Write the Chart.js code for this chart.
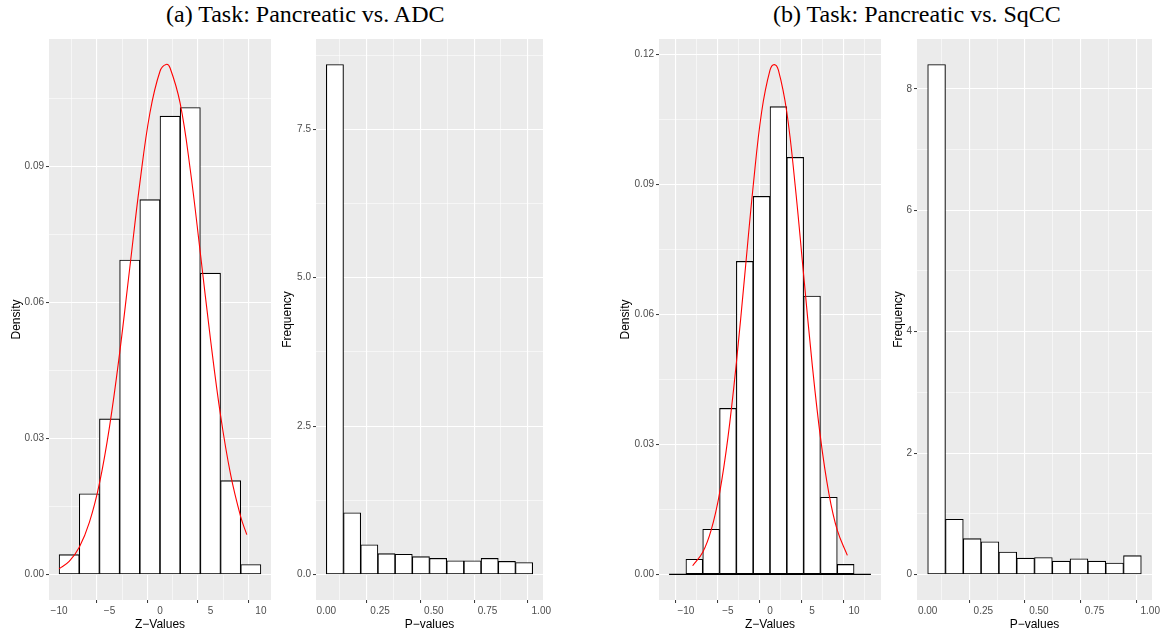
<!DOCTYPE html>
<html>
<head>
<meta charset="utf-8">
<title>Z-values and P-values</title>
<script src="https://cdn.jsdelivr.net/npm/chart.js@4.4.0/dist/chart.umd.min.js"></script>
<style>
body { margin: 0; width: 1164px; height: 636px; background: #fff; position: relative; overflow: hidden; }
.title { position: absolute; top: 2px; font-family: "Liberation Serif", "Times New Roman", serif; font-size: 24px; line-height: 24px; white-space: nowrap; color: #000; }
canvas { position: absolute; }
</style>
</head>
<body>
<div class="title" style="left:166px">(a) Task: Pancreatic vs. ADC</div>
<div class="title" style="left:773px">(b) Task: Pancreatic vs. SqCC</div>
<canvas id="zA"></canvas>
<canvas id="pA"></canvas>
<canvas id="zB"></canvas>
<canvas id="pB"></canvas>
<script>
'use strict'

// histogram bins (edges) and heights
var zEdgesA = [-10, -8, -6, -4, -2, 0, 2, 4, 6, 8, 10];
var zDensityA = [0.0044, 0.0178, 0.0343, 0.0693, 0.0826, 0.1010, 0.1029, 0.0664, 0.0207, 0.0022];
var zEdgesB = [-12, -10, -8, -6, -4, -2, 0, 2, 4, 6, 8, 10, 12];
var zDensityB = [0, 0.0035, 0.0104, 0.0383, 0.0722, 0.0872, 0.1079, 0.0962, 0.0642, 0.0178, 0.0023, 0];

var pEdges = [0, 0.08, 0.16, 0.24, 0.32, 0.40, 0.48, 0.56, 0.64, 0.72, 0.80, 0.88, 0.96];
var pFreqA = [8.59, 1.04, 0.50, 0.35, 0.34, 0.30, 0.27, 0.23, 0.23, 0.27, 0.22, 0.20];
var pFreqB = [8.40, 0.91, 0.59, 0.54, 0.37, 0.27, 0.28, 0.22, 0.26, 0.22, 0.19, 0.31];

// red density curves
var curveXA = [-10, -9, -8, -7, -6, -5, -4, -3, -2, -1, 0, 0.6, 1, 2, 3, 4, 5, 6, 7, 8, 8.6];
var curveYA = [0.0013, 0.0029, 0.0060, 0.0115, 0.0201, 0.0326, 0.0488, 0.0675, 0.0862, 0.1017,
    0.1109, 0.1124, 0.1116, 0.1038, 0.0892, 0.0708, 0.0519, 0.0351, 0.0220, 0.0127, 0.0088];
var curveXB = [-9.2, -8, -7, -6, -5, -4, -3, -2, -1, 0, 0.5, 1, 2, 3, 4, 5, 6, 7, 8, 9.2];
var curveYB = [0.0020, 0.0051, 0.0102, 0.0187, 0.0316, 0.0488, 0.0691, 0.0896, 0.1066, 0.1163,
    0.1176, 0.1163, 0.1066, 0.0896, 0.0691, 0.0488, 0.0316, 0.0187, 0.0102, 0.0044];

// tick labels (major) and minor grid positions
var zTicks = [-10, -5, 0, 5, 10];
var zMinorA = [-7.5, -2.5, 2.5, 7.5];
var zMinorB = [-12.5, -7.5, -2.5, 2.5, 7.5, 12.5];
var densTicksA = [0, 0.03, 0.06, 0.09];
var densTicksB = [0, 0.03, 0.06, 0.09, 0.12];
var densMinor = [0.015, 0.045, 0.075, 0.105];
var pTicks = [0, 0.25, 0.5, 0.75, 1];
var pMinor = [0.125, 0.375, 0.625, 0.875];
var freqTicksA = [0, 2.5, 5, 7.5];
var freqMinorA = [1.25, 3.75, 6.25, 8.75];
var freqTicksB = [0, 2, 4, 6, 8];
var freqMinorB = [1, 3, 5, 7];

var TICK_FONT = { family: 'Liberation Sans, Arial, sans-serif', size: 10 };
var TITLE_FONT = { family: 'Liberation Sans, Arial, sans-serif', size: 12 };

// ggplot grey panel
var panelBg = {
    id: 'panelBg',
    beforeDraw: function (chart) {
        var a = chart.chartArea;
        var c = chart.ctx;
        c.save();
        c.fillStyle = '#EBEBEB';
        c.fillRect(a.left, a.top, a.right - a.left, a.bottom - a.top);
        c.restore();
    }
};

function fmt(v, digits) {
    return v.toFixed(digits).replace('-', '\u2212');
}

function binBars(edges, heights) {
    var out = [];
    for (var i = 0; i != heights.length; i++) {
        out.push({ x: (edges[i] + edges[i + 1]) / 2, y: heights[i] });
    }
    return out;
}

function pairs(xs, ys) {
    return xs.map(function (x, i) { return { x: x, y: ys[i] }; });
}

function axis(min, max, major, minor, digits, title, isX, size, titlePad) {
    var all = major.concat(minor).sort(function (a, b) { return a - b; });
    var isMajor = function (v) { return major.indexOf(v) >= 0; };
    return {
        type: 'linear',
        min: min,
        max: max,
        bounds: 'data',
        offset: false,
        border: { display: false },
        afterBuildTicks: function (s) {
            s.ticks = all.map(function (v) { return { value: v }; });
        },
        afterFit: function (s) {
            if (isX) { s.height = size; } else { s.width = size; }
        },
        grid: {
            color: '#FFFFFF',
            lineWidth: function (ctx) { return ctx.tick && isMajor(ctx.tick.value) ? 1.1 : 0.55; },
            tickColor: function (ctx) { return ctx.tick && isMajor(ctx.tick.value) ? '#333333' : 'rgba(0,0,0,0)'; },
            tickWidth: 1,
            tickLength: 3,
            drawTicks: true
        },
        ticks: {
            autoSkip: false,
            maxRotation: 0,
            padding: 2,
            color: '#4D4D4D',
            font: TICK_FONT,
            callback: function (v) { return isMajor(v) ? fmt(v, digits) : ''; }
        },
        title: {
            display: true,
            text: title,
            color: '#000000',
            font: TITLE_FONT,
            padding: isX ? { top: 0, bottom: titlePad } : { top: titlePad, bottom: 0 }
        }
    };
}

function makePanel(id, box, datasets, xAxis, yAxis) {
    var cv = document.getElementById(id);
    cv.width = box.w;
    cv.height = box.h;
    cv.style.left = box.left + 'px';
    cv.style.top = box.top + 'px';
    return new Chart(cv.getContext('2d'), {
        type: 'bar',
        data: { datasets: datasets },
        options: {
            responsive: false,
            animation: false,
            layout: { padding: { top: 10, right: box.padRight, bottom: 0, left: 0 } },
            plugins: { legend: { display: false }, tooltip: { enabled: false } },
            scales: { x: xAxis, y: yAxis }
        },
        plugins: [panelBg]
    });
}

function histSet(edges, heights) {
    return {
        type: 'bar',
        data: binBars(edges, heights),
        backgroundColor: '#FFFFFF',
        borderColor: '#000000',
        borderWidth: 1.1,
        borderSkipped: false,
        barPercentage: 1,
        categoryPercentage: 1,
        order: 2
    };
}

function curveSet(xs, ys) {
    return {
        type: 'line',
        data: pairs(xs, ys),
        borderColor: '#FF0000',
        borderWidth: 1.1,
        pointRadius: 0,
        tension: 0.4,
        fill: false,
        order: 0
    };
}

function baseSet(edges) {
    return {
        type: 'line',
        data: [{ x: edges[0], y: 0 }, { x: edges[edges.length - 1], y: 0 }],
        borderColor: '#000000',
        borderWidth: 1.1,
        pointRadius: 0,
        fill: false,
        order: 1
    };
}

// (a) Z-values
makePanel('zA', { left: 7, top: 29, w: 278, h: 607, padRight: 14 },
    [histSet(zEdgesA, zDensityA), curveSet(curveXA, curveYA)],
    axis(-11.0, 11.0, zTicks, zMinorA, 0, 'Z\u2212Values', true, 36, 4),
    axis(-0.0056, 0.1180, densTicksA, densMinor, 2, 'Density', false, 42, 2));

// (a) P-values
makePanel('pA', { left: 278, top: 29, w: 279, h: 607, padRight: 14 },
    [histSet(pEdges, pFreqA)],
    axis(-0.048, 1.008, pTicks, pMinor, 2, 'P\u2212values', true, 36, 4),
    axis(-0.43, 9.02, freqTicksA, freqMinorA, 1, 'Frequency', false, 38, 2));

// (b) Z-values
makePanel('zB', { left: 616, top: 29, w: 279, h: 607, padRight: 14 },
    [histSet(zEdgesB, zDensityB), baseSet(zEdgesB), curveSet(curveXB, curveYB)],
    axis(-13.2, 13.2, zTicks, zMinorB, 0, 'Z\u2212Values', true, 36, 4),
    axis(-0.0059, 0.1235, densTicksB, densMinor, 2, 'Density', false, 43, 2));

// (b) P-values
makePanel('pB', { left: 889, top: 29, w: 275, h: 607, padRight: 12 },
    [histSet(pEdges, pFreqB)],
    axis(-0.048, 1.008, pTicks, pMinor, 2, 'P\u2212values', true, 36, 4),
    axis(-0.42, 8.82, freqTicksB, freqMinorB, 0, 'Frequency', false, 28, 2));
</script>
</body>
</html>
